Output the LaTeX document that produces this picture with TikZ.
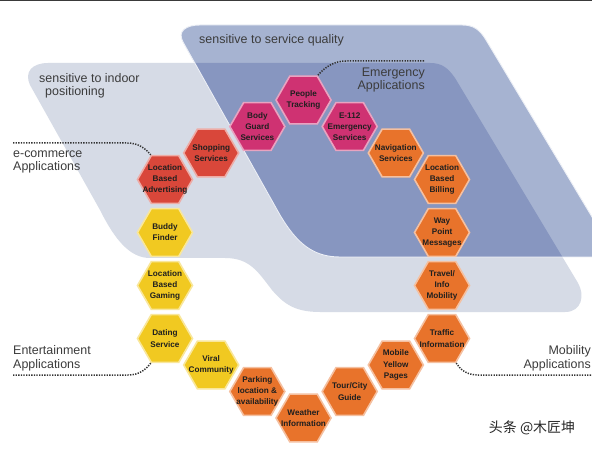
\documentclass[tikz,border=0pt]{standalone}
\usepackage{fontspec}
\setmainfont{Liberation Sans}
\newfontfamily\cjk{Noto Sans CJK SC}
\usetikzlibrary{shapes.geometric}
\definecolor{lightbg}{HTML}{D6DBE6}
\definecolor{darkbg}{HTML}{A6B3D1}
\definecolor{overlapbg}{HTML}{8796C0}
\definecolor{hexred}{HTML}{D9473A}
\definecolor{hexmag}{HTML}{CF3272}
\definecolor{hexorange}{HTML}{E8732B}
\definecolor{hexyellow}{HTML}{F1C921}
\definecolor{labelgray}{HTML}{3C3C3C}
\definecolor{dotgray}{HTML}{333333}
\definecolor{topline}{HTML}{3A3A3A}
\def\lightpath{(48,63) -- (430,63) .. controls (442,63) and (448,68) .. (455,78) -- (578,283) .. controls (585,295) and (582,312) .. (565,312) -- (320,312) .. controls (295,312) and (284,304) .. (272,290) .. controls (258,272) and (250,258) .. (225,258) -- (150,258) .. controls (130,258) and (115,240) .. (100,210) -- (30,85) .. controls (24,72) and (32,63) .. (48,63) -- cycle}
\def\darkpath{(200,25) -- (462,25) .. controls (474,25) and (480,30) .. (486,40) -- (616,257) -- (340,257) .. controls (312,257) and (296,242) .. (280,215) -- (183,42) .. controls (177,31) and (186,25) .. (200,25) -- cycle}
\tikzset{
  hex/.style={regular polygon, regular polygon sides=6, minimum size=55bp, inner sep=0pt, line width=1.6bp},
  hexR/.style={hex, fill=hexred, draw=hexred!45!white},
  hexM/.style={hex, fill=hexmag, draw=hexmag!45!white},
  hexO/.style={hex, fill=hexorange, draw=hexorange!45!white},
  hexY/.style={hex, fill=hexyellow, draw=hexyellow!45!white},
  hextext/.style={align=center, font=\fontsize{8.2}{11.2}\selectfont\bfseries, text=black!88, inner sep=0pt},
  lbl/.style={font=\fontsize{12.5}{14}\selectfont, text=labelgray, inner sep=0pt},
  dotline/.style={draw=dotgray, line width=1.5bp, dash pattern=on 1.3bp off 1.3bp}
}
\newcommand\hexat[5]{%
  \node[#2] (#1) at ({165+46.17*#3},{100+26.5*#4}) {};
  \node[hextext] (#1t) at (#1.center) {#5};}
\begin{document}
\begin{tikzpicture}[x=1bp,y=-1bp]
\useasboundingbox (0,0) rectangle (592,449);
\clip (0,0) rectangle (592,449);
\fill[white] (0,0) rectangle (592,449);
\fill[topline] (0,0) rectangle (592,1.5);
% background regions
\fill[lightbg] \lightpath;
\fill[darkbg] \darkpath;
\begin{scope}
  \clip \lightpath;
  \fill[overlapbg] \darkpath;
\end{scope}
\draw[white!80!darkbg, line width=0.9bp] \darkpath;
% region labels
\node[lbl, anchor=base west] (sq) at (199,44) {sensitive to service quality};
\node[lbl, anchor=base west, align=left] (ip) at (39,96) {sensitive to indoor\\\hspace*{6bp}positioning};
\node[lbl, anchor=base east, align=right] (em) at (425,90) {Emergency\\Applications};
\node[lbl, anchor=base west, align=left] (ec) at (13,171) {e-commerce\\Applications};
\node[lbl, anchor=base west, align=left] (en) at (13,368) {Entertainment\\Applications};
\node[lbl, anchor=base east, align=right] (mo) at (591,368) {Mobility\\Applications};
% hexagons
\hexat{lba}{hexR}{0}{3}{Location\\Based\\Advertising}
\hexat{shop}{hexR}{1}{2}{Shopping\\Services}
\hexat{body}{hexM}{2}{1}{Body\\Guard\\Services}
\hexat{people}{hexM}{3}{0}{People\\Tracking}
\hexat{e112}{hexM}{4}{1}{E-112\\Emergency\\Services}
\hexat{nav}{hexO}{5}{2}{Navigation\\Services}
\hexat{lbb}{hexO}{6}{3}{Location\\Based\\Billing}
\hexat{way}{hexO}{6}{5}{Way\\Point\\Messages}
\hexat{travel}{hexO}{6}{7}{Travel/\\Info\\Mobility}
\hexat{traffic}{hexO}{6}{9}{Traffic\\Information}
\hexat{yellow}{hexO}{5}{10}{Mobile\\Yellow\\Pages}
\hexat{tour}{hexO}{4}{11}{Tour/City\\Guide}
\hexat{weather}{hexO}{3}{12}{Weather\\Information}
\hexat{parking}{hexO}{2}{11}{Parking\\location \&\\availability}
\hexat{viral}{hexY}{1}{10}{Viral\\Community}
\hexat{dating}{hexY}{0}{9}{Dating\\Service}
\hexat{gaming}{hexY}{0}{7}{Location\\Based\\Gaming}
\hexat{buddy}{hexY}{0}{5}{Buddy\\Finder}
% dotted connectors
\coordinate (ecend) at (13,143);
\coordinate (enend) at (13,375);
\coordinate (moend) at (591,375);
\coordinate (emend) at (424,61);
\draw[dotline] (ecend) -- (127,143) .. controls (138,143) and (145,148) .. (lba.120);
\draw[dotline] (enend) -- (128,375) .. controls (140,375) and (146,369) .. (dating.240);
\draw[dotline] (moend) -- (478,375) .. controls (466,375) and (460,369) .. (traffic.300);
\draw[dotline] (emend) -- (346,61) .. controls (335,61) and (326,66) .. (people.60);
% watermark
\node[font=\cjk\fontsize{14}{16}\selectfont, text=black!85, inner sep=0pt] (wm) at (532,428) {头条 @木匠坤};
\end{tikzpicture}
\end{document}
